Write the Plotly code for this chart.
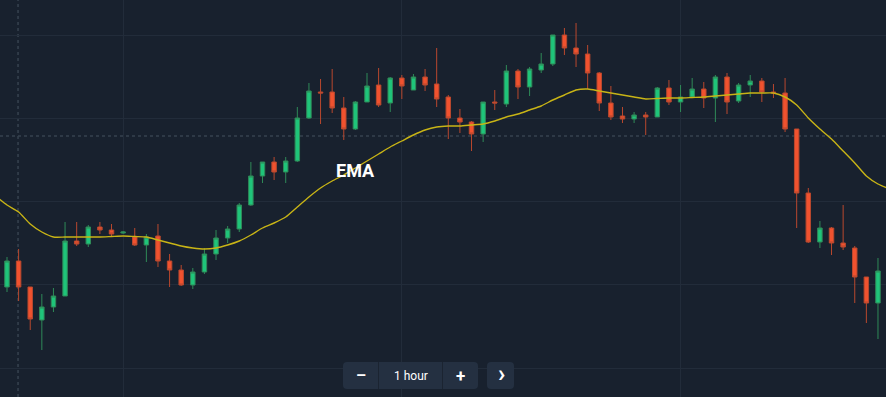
import plotly.graph_objects as go

# ---------------- data ----------------
candle_index = list(range(76))
open_ = [113, 139, 113, 80, 93, 104, 159, 156, 173, 170, 167, 163, 155, 164, 139, 130, 115, 128, 146, 162,
         171, 195, 224, 238, 228, 239, 282, 308, 308, 292, 271, 298, 315, 297, 322, 310, 323, 316, 303, 282,
         278, 266, 298, 296, 329, 313, 330, 336, 365, 352, 346, 327, 297, 284, 281, 285, 283, 312, 298, 303,
         311, 302, 323, 299, 315, 319, 308, 307, 271, 207, 158, 172, 157, 152, 123, 97]
high = [143, 151, 113, 106, 112, 178, 178, 175, 178, 176, 169, 172, 166, 176, 146, 135, 132, 152, 170, 174,
        197, 238, 238, 243, 243, 293, 317, 321, 331, 303, 299, 327, 332, 323, 325, 326, 331, 352, 305, 291,
        279, 298, 310, 335, 331, 333, 347, 365, 372, 377, 355, 328, 314, 293, 288, 288, 313, 320, 315, 322,
        318, 325, 327, 317, 325, 322, 316, 322, 271, 212, 179, 173, 195, 154, 123, 142]
low = [108, 99, 70, 50, 88, 104, 154, 153, 166, 163, 166, 154, 138, 133, 113, 114, 111, 126, 140, 157,
       168, 194, 217, 220, 217, 238, 281, 276, 287, 260, 270, 298, 293, 288, 301, 310, 309, 293, 261, 267,
       249, 258, 290, 293, 301, 304, 327, 334, 345, 333, 311, 289, 280, 277, 277, 265, 283, 295, 288, 303,
       292, 278, 286, 297, 303, 298, 302, 268, 172, 157, 152, 145, 150, 97, 77, 61]
close = [139, 113, 81, 93, 104, 159, 156, 173, 170, 166, 168, 155, 163, 139, 130, 115, 128, 146, 162, 171,
         195, 224, 238, 228, 239, 282, 309, 307, 292, 271, 298, 314, 295, 322, 314, 323, 315, 301, 282, 278,
         266, 298, 297, 329, 313, 331, 336, 365, 352, 346, 327, 297, 283, 281, 285, 283, 312, 298, 303, 311,
         302, 323, 298, 315, 319, 308, 307, 271, 207, 158, 172, 157, 153, 123, 97, 129]

ema_index = list(range(-1, 77))
ema = [204, 195, 188, 176, 168, 163, 163, 163, 163, 163, 163.5, 164, 163.5, 163, 160, 157, 154, 152, 151, 152,
       155, 159, 165, 172, 177, 183, 193, 203, 212, 219, 225, 232, 239, 246, 253, 259, 265, 270, 273, 274,
       274, 275, 276, 279, 283, 286, 290, 294, 300, 305, 310, 311, 309, 307, 305, 303, 301, 301.5, 302, 302,
       302.5, 303, 304, 305, 306, 307, 307, 307, 303, 295, 282, 271, 261, 249, 237, 224, 216, 211]

series_label = "EMA"
interval_label = "1 hour"

# ---------------- style ----------------
W, H = 886, 397
BG = "#18212e"
GRID = "#222c3a"
GREEN = "#1fc47a"
GREEN_WICK = "#2f8a58"
RED = "#f0522f"
RED_WICK = "#b9482e"
EMA_COLOR = "#c8b416"
BTN = "#243041"

fig = go.Figure()

fig.add_trace(go.Candlestick(
    x=candle_index, open=open_, high=high, low=low, close=close,
    increasing=dict(fillcolor=GREEN, line=dict(color=GREEN_WICK, width=1)),
    decreasing=dict(fillcolor=RED, line=dict(color=RED_WICK, width=1)),
    whiskerwidth=0, hoverinfo="skip", showlegend=False,
))

fig.add_trace(go.Scatter(
    x=ema_index, y=ema, mode="lines",
    line=dict(color=EMA_COLOR, width=1.4, shape="spline", smoothing=0.6),
    hoverinfo="skip", showlegend=False,
))

# crosshair lines
fig.add_shape(type="line", xref="x", yref="paper", x0=0.95, x1=0.95, y0=0, y1=1,
              line=dict(color="#36424f", width=1.5, dash="dot"), layer="below")
fig.add_shape(type="line", xref="paper", yref="y", x0=0, x1=1, y0=264, y1=264,
              line=dict(color="#36424f", width=1.5, dash="dot"), layer="below")

# bottom control buttons (UI chrome)
def px(xp):
    return xp / W

def py(yp):
    return 1 - yp / H

def rounded_rect(x0, y0, x1, y1, r, color):
    path = (f"M {px(x0 + r)},{py(y0)} L {px(x1 - r)},{py(y0)} "
            f"Q {px(x1)},{py(y0)} {px(x1)},{py(y0 + r)} "
            f"L {px(x1)},{py(y1 - r)} Q {px(x1)},{py(y1)} {px(x1 - r)},{py(y1)} "
            f"L {px(x0 + r)},{py(y1)} Q {px(x0)},{py(y1)} {px(x0)},{py(y1 - r)} "
            f"L {px(x0)},{py(y0 + r)} Q {px(x0)},{py(y0)} {px(x0 + r)},{py(y0)} Z")
    fig.add_shape(type="path", path=path, xref="paper", yref="paper",
                  fillcolor=color, line=dict(width=0), layer="above")

rounded_rect(343, 362, 478, 389, 4, BTN)
rounded_rect(487, 362, 514, 389, 4, BTN)
for sx in (378.5, 442.5):
    fig.add_shape(type="line", xref="paper", yref="paper", x0=px(sx), x1=px(sx),
                  y0=py(362), y1=py(389), line=dict(color="#1b2431", width=1), layer="above")

btn_font = dict(family="Roboto, Inter, sans-serif", color="#ffffff")
btn_common = dict(xref="paper", yref="paper", showarrow=False, xanchor="center", yanchor="middle")
fig.add_annotation(x=px(361), y=py(375.5), text="<b>\u2013</b>", font=dict(size=16, **btn_font), **btn_common)
fig.add_annotation(x=px(411), y=py(375.5), text=interval_label, font=dict(size=12, **btn_font), **btn_common)
fig.add_annotation(x=px(460), y=py(375.5), text="<b>+</b>", font=dict(size=17, **btn_font), **btn_common)
fig.add_annotation(x=px(501), y=py(374), text="<b>\u203a</b>", font=dict(size=24, **btn_font), **btn_common)

# EMA label
fig.add_annotation(x=px(355.5), y=py(170), text="<b>" + series_label + "</b>",
                   font=dict(family="Roboto, Inter, sans-serif", size=18, color="#ffffff"), **btn_common)

x_left = -7 / 11.613
x_right = (W - 7) / 11.613

fig.update_layout(
    width=W, height=H,
    margin=dict(l=0, r=0, t=0, b=0),
    paper_bgcolor=BG, plot_bgcolor=BG,
    boxgap=0.45,
    showlegend=False,
    xaxis=dict(range=[x_left, x_right], showticklabels=False, showgrid=True, gridcolor=GRID,
               gridwidth=1, tick0=10, dtick=24, zeroline=False, showline=False,
               rangeslider=dict(visible=False), fixedrange=True),
    yaxis=dict(range=[400 - H, 400], showticklabels=False, showgrid=True, gridcolor=GRID,
               gridwidth=1, tick0=32, dtick=83.25, zeroline=False, showline=False, fixedrange=True),
    hovermode=False,
)

fig.write_html(
    "out.html",
    config=dict(displayModeBar=False, staticPlot=True),
    post_script="document.body.style.margin='0';document.body.style.overflow='hidden';"
                "document.body.style.background='" + BG + "';",
)
